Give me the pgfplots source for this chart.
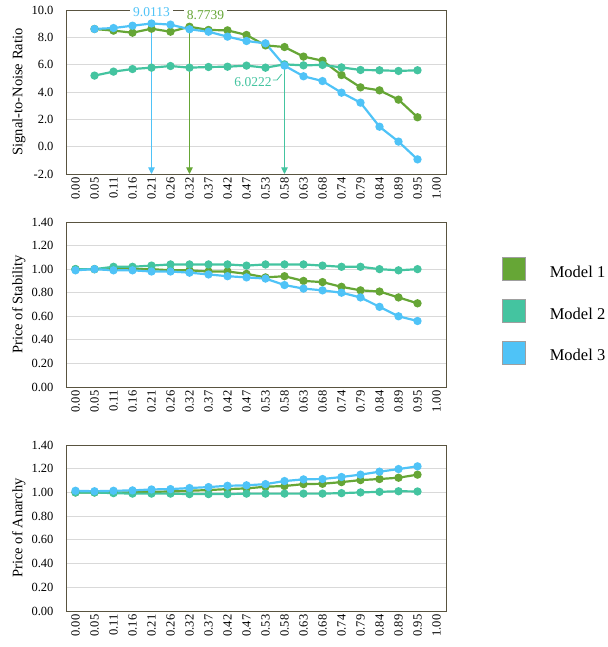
\documentclass[border=0pt]{standalone}
\usepackage{fontspec}
\setmainfont{Liberation Serif}
\usepackage{pgfplots}
\pgfplotsset{compat=1.18}
\usetikzlibrary{arrows.meta}

\definecolor{mone}{RGB}{102,166,54}
\definecolor{mtwo}{RGB}{68,196,160}
\definecolor{mthree}{RGB}{79,195,247}
\definecolor{axframe}{RGB}{89,84,64}
\definecolor{gridc}{RGB}{217,217,217}

\tikzset{vlabel/.style={fill=white, inner sep=3pt, font=\fontsize{13.5}{15}\selectfont}}

\pgfplotsset{
  panel/.style={
    scale only axis, width=380pt,
    xmin=-0.5, xmax=19.5,
    xtick={0,...,19},
    xticklabels={0.00,0.05,0.11,0.16,0.21,0.26,0.32,0.37,0.42,0.47,0.53,0.58,0.63,0.68,0.74,0.79,0.84,0.89,0.95,1.00},
    tick style={draw=none},
    ymajorgrids, xmajorgrids=false,
    major grid style={draw=gridc, line width=0.8pt},
    axis line style={draw=axframe, line width=0.9pt},
    tick label style={font=\fontsize{12.5}{14}\selectfont, text=black},
    xticklabel style={rotate=90, anchor=east},
    yticklabel style={xshift=-9pt},
    /pgf/number format/assume math mode=true,
    every axis y label/.style={at={(axis description cs:-0.124,0.5)}, rotate=90,
      anchor=center, font=\fontsize{14.5}{16}\selectfont},
    clip=false,
  },
  series/.style={color=#1, line width=2.2pt, mark=*, mark size=3pt, mark options={solid}},
}

\begin{document}
\begin{tikzpicture}
\useasboundingbox (0pt,0pt) rectangle (607pt,647pt);

% Signal-to-noise ratio
\begin{axis}[panel, at={(66pt,473pt)}, anchor=south west, height=164pt,
  ymin=-2, ymax=10, ytick={-2,0,2,4,6,8,10},
  yticklabel style={/pgf/number format/.cd, fixed, fixed zerofill, precision=1},
  ylabel={Signal-to-Noise Ratio}]
\addplot[series=mone] coordinates {
  (1,8.61)(2,8.49)(3,8.34)(4,8.63)(5,8.41)(6,8.7739)(7,8.54)(8,8.51)(9,8.17)
  (10,7.41)(11,7.29)(12,6.59)(13,6.29)(14,5.24)(15,4.34)(16,4.12)(17,3.44)(18,2.15)};
\addplot[series=mtwo] coordinates {
  (1,5.20)(2,5.49)(3,5.68)(4,5.78)(5,5.90)(6,5.78)(7,5.83)(8,5.85)(9,5.93)
  (10,5.78)(11,6.0222)(12,5.95)(13,5.98)(14,5.80)(15,5.61)(16,5.59)(17,5.54)(18,5.59)};
\addplot[series=mthree] coordinates {
  (1,8.61)(2,8.68)(3,8.85)(4,9.0113)(5,8.93)(6,8.59)(7,8.41)(8,8.05)(9,7.73)
  (10,7.56)(11,5.93)(12,5.15)(13,4.80)(14,3.95)(15,3.22)(16,1.46)(17,0.37)(18,-0.93)};
% maxima markers
\draw[mthree, line width=0.9pt, -{Triangle[width=6.5pt,length=6.5pt]}] (axis cs:4,9.0113) -- (axis cs:4,-2);
\draw[mone, line width=0.9pt, -{Triangle[width=6.5pt,length=6.5pt]}] (axis cs:6,8.7739) -- (axis cs:6,-2);
\draw[mtwo, line width=0.9pt, -{Triangle[width=6.5pt,length=6.5pt]}] (axis cs:11,6.0222) -- (axis cs:11,-2);
\node[vlabel, text=mthree] at (axis cs:4,9.85) {9.0113};
\node[vlabel, text=mone] at (axis cs:6.84,9.63) {8.7739};
\node[vlabel, text=mtwo] at (axis cs:9.34,4.73) {6.0222};
\draw[mtwo, line width=0.8pt] (axis cs:10.39,4.88) -- (axis cs:10.61,4.88) -- (axis cs:10.85,5.3);
\end{axis}

% Price of stability
\begin{axis}[panel, at={(66pt,260pt)}, anchor=south west, height=165pt,
  ymin=0, ymax=1.4, ytick={0,0.2,0.4,0.6,0.8,1,1.2,1.4},
  yticklabel style={/pgf/number format/.cd, fixed, fixed zerofill, precision=2},
  ylabel={Price of Stability},
  legend cell align=left,
  legend image code/.code={\draw[#1] (0pt,-8.5pt) rectangle (23pt,15pt);},
  legend style={at={(axis description cs:1.1474,0.788)}, anchor=north west,
    draw=none, fill=none, inner sep=0pt, outer sep=0pt,
    font=\fontsize{16.5}{18}\selectfont, row sep=17.5pt,
    nodes={inner sep=0pt},
    /tikz/every odd column/.append style={column sep=24pt}}]
\addlegendimage{draw=gray!75, fill=mone, line width=0.8pt}
\addlegendentry{Model 1}
\addlegendimage{draw=gray!75, fill=mtwo, line width=0.8pt}
\addlegendentry{Model 2}
\addlegendimage{draw=gray!75, fill=mthree, line width=0.8pt}
\addlegendentry{Model 3}
\addplot[series=mone, forget plot] coordinates {
  (0,1.00)(1,1.00)(2,1.00)(3,1.00)(4,1.00)(5,0.99)(6,0.99)(7,0.98)(8,0.98)(9,0.96)
  (10,0.93)(11,0.94)(12,0.90)(13,0.89)(14,0.85)(15,0.82)(16,0.81)(17,0.76)(18,0.71)};
\addplot[series=mtwo, forget plot] coordinates {
  (0,1.00)(1,1.00)(2,1.02)(3,1.02)(4,1.03)(5,1.04)(6,1.04)(7,1.04)(8,1.04)(9,1.03)
  (10,1.04)(11,1.04)(12,1.04)(13,1.03)(14,1.02)(15,1.02)(16,1.00)(17,0.99)(18,1.00)};
\addplot[series=mthree, forget plot] coordinates {
  (0,0.99)(1,1.00)(2,0.99)(3,0.99)(4,0.98)(5,0.98)(6,0.97)(7,0.955)(8,0.94)(9,0.93)
  (10,0.92)(11,0.865)(12,0.835)(13,0.82)(14,0.80)(15,0.76)(16,0.68)(17,0.60)(18,0.56)};
\end{axis}

% Price of anarchy
\begin{axis}[panel, at={(66pt,36pt)}, anchor=south west, height=166pt,
  ymin=0, ymax=1.4, ytick={0,0.2,0.4,0.6,0.8,1,1.2,1.4},
  yticklabel style={/pgf/number format/.cd, fixed, fixed zerofill, precision=2},
  ylabel={Price of Anarchy}]
\addplot[series=mone] coordinates {
  (0,1.00)(1,1.00)(2,1.00)(3,1.00)(4,1.005)(5,1.008)(6,1.014)(7,1.02)(8,1.028)(9,1.034)
  (10,1.048)(11,1.054)(12,1.07)(13,1.073)(14,1.087)(15,1.104)(16,1.113)(17,1.124)(18,1.15)};
\addplot[series=mtwo] coordinates {
  (0,1.00)(1,1.00)(2,0.994)(3,0.99)(4,0.99)(5,0.99)(6,0.986)(7,0.986)(8,0.986)(9,0.99)
  (10,0.99)(11,0.99)(12,0.99)(13,0.99)(14,0.994)(15,1.00)(16,1.005)(17,1.01)(18,1.008)};
\addplot[series=mthree] coordinates {
  (0,1.014)(1,1.01)(2,1.014)(3,1.017)(4,1.025)(5,1.028)(6,1.037)(7,1.045)(8,1.056)(9,1.06)
  (10,1.07)(11,1.096)(12,1.11)(13,1.113)(14,1.13)(15,1.15)(16,1.175)(17,1.197)(18,1.22)};
\end{axis}
\end{tikzpicture}
\end{document}
